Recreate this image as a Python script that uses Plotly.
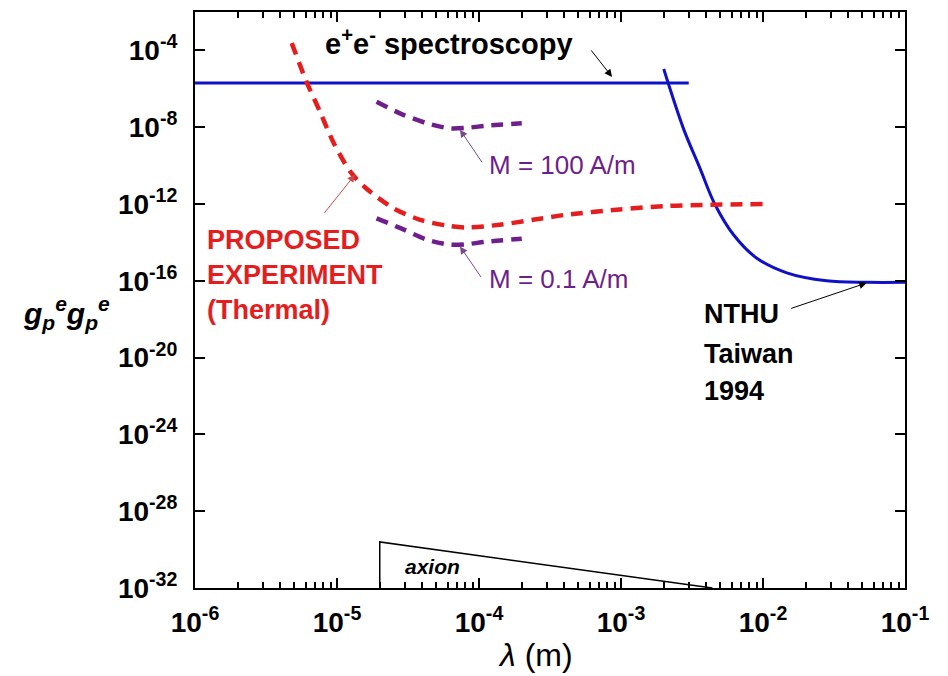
import plotly.graph_objects as go

# ---------------- data ----------------
ee_lam = [1e-6, 3.0e-3]
ee_g = [2.0e-6, 2.0e-6]

nthu_lam = [2.0e-3, 2.75e-3, 3.6e-3, 4.6e-3, 6.2e-3, 9.0e-3, 1.47e-2, 2.8e-2, 5.4e-2, 1e-1]
nthu_g = [1.07e-5, 8.7e-9, 7.2e-11, 9.1e-13, 2.5e-14, 1.55e-15, 2.6e-16, 1.0e-16, 8.3e-17, 8.3e-17]

prop_lam = [4.8e-6, 6.1e-6, 7.6e-6, 9.4e-6, 1.24e-5, 1.6e-5, 2.5e-5, 3.85e-5, 5.9e-5, 8.2e-5,
            1.4e-4, 2.4e-4, 4.1e-4, 9.3e-4, 2.1e-3, 1e-2]
prop_g = [2.4e-4, 2.3e-6, 6.3e-8, 1.7e-9, 4.8e-11, 6.6e-12, 6.0e-13, 1.5e-13, 7.6e-14, 6.0e-14,
          8.3e-14, 1.5e-13, 2.75e-13, 5.0e-13, 7.9e-13, 1.0e-12]

m_lam = [1.9e-5, 2.8e-5, 4.3e-5, 6.25e-5, 8.2e-5, 1.13e-4, 2.0e-4]
m100_g = [2.1e-7, 5.1e-8, 1.6e-8, 8.7e-9, 9.3e-9, 1.2e-8, 1.6e-8]
m01_g = [1.8e-13, 5.5e-14, 1.4e-14, 7.6e-15, 8.1e-15, 1.1e-14, 1.55e-14]

axion_lam = [2e-5, 2e-5, 4.4e-3]
axion_g = [1e-32, 2.5e-30, 1e-32]

x_tick_vals = [1e-6, 1e-5, 1e-4, 1e-3, 1e-2, 1e-1]
x_tick_text = ["10<sup>-6</sup>", "10<sup>-5</sup>", "10<sup>-4</sup>", "10<sup>-3</sup>",
               "10<sup>-2</sup>", "10<sup>-1</sup>"]
y_tick_vals = [1e-4, 1e-8, 1e-12, 1e-16, 1e-20, 1e-24, 1e-28, 1e-32]
y_tick_text = ["10<sup>-4</sup>", "10<sup>-8</sup>", "10<sup>-12</sup>", "10<sup>-16</sup>",
               "10<sup>-20</sup>", "10<sup>-24</sup>", "10<sup>-28</sup>", "10<sup>-32</sup>"]
x_minor_vals = [m * 10.0 ** e for e in range(-6, -1) for m in range(2, 10)]

BLUE = "#1010c8"
RED = "#e41e1e"
PURPLE = "#6e1f8c"
FONT = "Liberation Sans, Arial, sans-serif"

fig = go.Figure()
fig.add_trace(go.Scatter(x=ee_lam, y=ee_g, mode="lines", line=dict(color=BLUE, width=3)))
fig.add_trace(go.Scatter(x=nthu_lam, y=nthu_g, mode="lines",
                         line=dict(color=BLUE, width=3, shape="spline", smoothing=1)))
fig.add_trace(go.Scatter(x=prop_lam, y=prop_g, mode="lines",
                         line=dict(color=RED, width=4.5, dash="12px,8px", shape="spline", smoothing=0.8)))
fig.add_trace(go.Scatter(x=m_lam, y=m100_g, mode="lines",
                         line=dict(color=PURPLE, width=4.5, dash="12px,8px", shape="spline", smoothing=0.8)))
fig.add_trace(go.Scatter(x=m_lam, y=m01_g, mode="lines",
                         line=dict(color=PURPLE, width=4.5, dash="12px,8px", shape="spline", smoothing=0.8)))
fig.add_trace(go.Scatter(x=axion_lam, y=axion_g, mode="lines", line=dict(color="black", width=1.5)))

ann = []
def arrow(x, y, ax, ay, color):
    ann.append(dict(x=x, y=y, xref="x", yref="y", ax=ax, ay=ay, text="", showarrow=True,
                    arrowhead=2, arrowsize=1.5, arrowwidth=1, arrowcolor=color))

def text(x, y, t, size, color="black", xanchor="left"):
    ann.append(dict(x=x, y=y, xref="x", yref="y", text=t, showarrow=False, xanchor=xanchor,
                    yanchor="middle", font=dict(family=FONT, size=size, color=color), align="left"))

arrow(-3.063, -5.38, -22, -28, "black")
arrow(-4.873, -10.47, -32, 40, "#d04848")
arrow(-4.134, -8.13, 23, 34, "#7a4a8a")
arrow(-4.134, -14.21, 22, 32, "#7a4a8a")
arrow(-1.27, -16.11, -77, 26, "black")

text(-5.099, -3.56, "<b>e<sup>+</sup>e<sup>-</sup> spectroscopy</b>", 29)
text(-3.944, -9.95, "M = 100 A/m", 26, PURPLE)
text(-3.944, -15.92, "M = 0.1 A/m", 26, PURPLE)
text(-5.93, -15.72, "<b>PROPOSED<br>EXPERIMENT<br>(Thermal)</b>", 27, RED)
text(-2.43, -17.74, "<b>NTHU</b>", 27)
text(-2.43, -19.82, "<b>Taiwan</b>", 27)
text(-2.43, -21.74, "<b>1994</b>", 27)
text(-4.535, -30.87, "<b><i>axion</i></b>", 21)

fig.update_layout(
    width=948, height=676,
    margin=dict(l=195, r=43, t=10, b=88),
    plot_bgcolor="white", paper_bgcolor="white",
    showlegend=False,
    font=dict(family=FONT, color="black"),
    annotations=ann,
)

# axis titles as annotations in paper coords
fig.add_annotation(x=(66 - 195) / 710, y=(587.7 - 312) / 577.7, xref="paper", yref="paper",
                   xanchor="center", yanchor="middle",
                   text="<b><i>g<sub>p</sub><sup>e</sup>g<sub>p</sub><sup>e</sup></i></b>",
                   showarrow=False, font=dict(family=FONT, size=30, color="black"))
fig.add_annotation(x=(535 - 195) / 710, y=(587.7 - 655) / 577.7, xref="paper", yref="paper",
                   xanchor="center", yanchor="middle",
                   text="<i>λ</i> (m)", showarrow=False,
                   font=dict(family=FONT, size=32, color="black"))

fig.update_xaxes(type="log", range=[-6, -1], tickmode="array", tickvals=x_tick_vals,
                 ticktext=x_tick_text, ticks="inside", ticklen=10, tickwidth=2, tickcolor="black",
                 showline=True, linewidth=2, linecolor="black", mirror="ticks", showgrid=False,
                 zeroline=False, tickfont=dict(family=FONT, size=28, color="black", weight="bold"),
                 ticklabelstandoff=8,
                 minor=dict(tickmode="array", tickvals=x_minor_vals, ticks="inside", ticklen=6,
                            tickwidth=1.5, tickcolor="black", showgrid=False))
fig.update_yaxes(type="log", range=[-32, -2], tickmode="array", tickvals=y_tick_vals,
                 ticktext=y_tick_text, ticks="inside", ticklen=10, tickwidth=2, tickcolor="black",
                 showline=True, linewidth=2, linecolor="black", mirror="ticks", showgrid=False,
                 zeroline=False, tickfont=dict(family=FONT, size=28, color="black", weight="bold"),
                 ticklabelstandoff=10)

fig.write_html("out.html")
